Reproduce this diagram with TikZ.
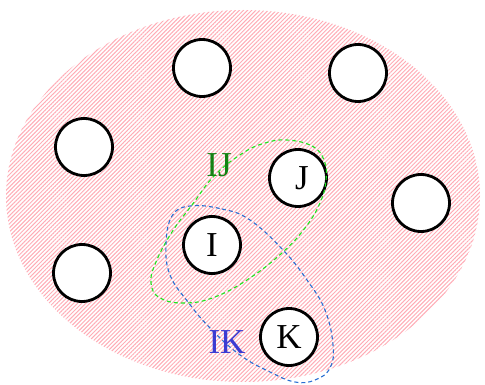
\documentclass[tikz,border=0pt]{standalone}
\usepackage{fontspec}
\setmainfont{Liberation Serif}
\usetikzlibrary{patterns.meta}
\definecolor{hatchpink}{RGB}{255,172,182}
\definecolor{loopgreen}{RGB}{30,230,30}
\definecolor{loopblue}{RGB}{40,110,210}
\definecolor{labgreen}{RGB}{20,130,20}
\definecolor{labblue}{RGB}{60,60,210}
\begin{document}
\begin{tikzpicture}[x=1pt,y=-1pt,
  elem/.style={circle,draw=black,line width=2.8pt,fill=white,minimum size=57pt,inner sep=0pt,font=\fontsize{35}{35}\selectfont},
  looplab/.style={font=\fontsize{35}{35}\selectfont,inner sep=0pt},
  greenloop/.style={draw=loopgreen,line width=1.1pt,dash pattern=on 4pt off 3pt},
  blueloop/.style={draw=loopblue,line width=1.1pt,dash pattern=on 4pt off 3pt}]
\useasboundingbox (0,0) rectangle (485,385);
\path[pattern={Lines[angle=45,distance=2.9pt,line width=1pt]},pattern color=hatchpink]
  (243,196) ellipse [x radius=237, y radius=186];
\node[elem] (a) at (202,68) {};
\node[elem] (b) at (358,73) {};
\node[elem] (c) at (84,147) {};
\node[elem] (d) at (421,203) {};
\node[elem] (e) at (82,273) {};
\node[elem] (J) at (298,178) {\raisebox{-3pt}{\hspace{8pt}J}};
\node[elem] (I) at (212,245) {I};
\node[elem] (K) at (289,337) {K};
\draw[greenloop] plot[smooth cycle,tension=0.7] coordinates {
  (287,140) (312,146) (324,160) (326,180) (320,203) (305,228) (283,252)
  (250,278) (215,297) (185,303) (160,298) (151,283) (156,262) (172,232)
  (192,205) (215,175) (243,153) (265,143)};
\draw[blueloop] plot[smooth cycle,tension=0.7] coordinates {
  (190,206) (222,209) (250,220) (283,250) (307,280) (325,310) (333,345)
  (330,368) (315,380) (295,382) (270,372) (240,355) (210,328) (188,302)
  (170,275) (166,245) (172,216)};
\node[looplab,text=labgreen] (lij) at (219,165) {IJ};
\node[looplab,text=labblue] (lik) at (227,342) {IK};
\end{tikzpicture}
\end{document}
